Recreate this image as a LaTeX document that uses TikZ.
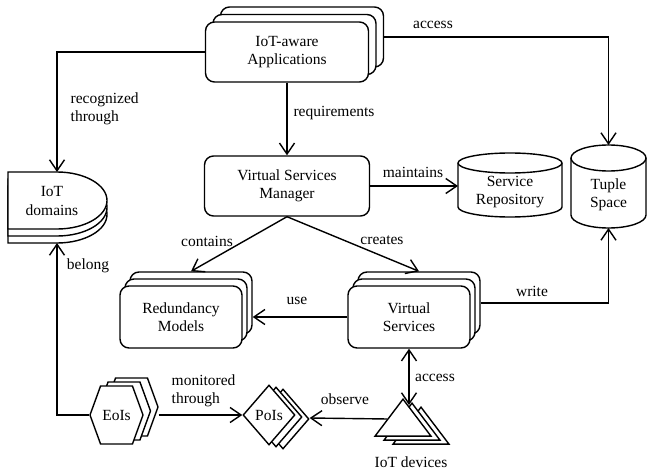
\documentclass[tikz,border=0pt]{standalone}
\usepackage{fontspec}
\setmainfont{Liberation Serif}
\usetikzlibrary{positioning,arrows.meta,calc,shapes.geometric,shapes.symbols,shadows}

\begin{document}
\begin{tikzpicture}[
    x=1pt, y=-1pt,
    every node/.style={font=\fontsize{15.5}{18.5}\selectfont},
    line width=1.4pt,
    box/.style={draw, fill=white, rounded corners=9pt, align=center, inner sep=0pt},
    stack/.style 2 args={copy shadow={shadow xshift=2*#1, shadow yshift=2*#2},
                         copy shadow={shadow xshift=#1, shadow yshift=#2}},
    arr/.style={-{Straight Barb[length=11pt,width=15pt]}},
    dblarr/.style={{Straight Barb[length=11pt,width=15pt]}-{Straight Barb[length=11pt,width=15pt]}},
    lbl/.style={inner sep=0pt},
]
\useasboundingbox (0,0) rectangle (647,473);

% main boxes
\node[box, stack={7.5pt}{7.5pt}, minimum width=163pt, minimum height=60pt]
    (app) at (287,52) {IoT-aware\\Applications};
\node[box, minimum width=165pt, minimum height=60pt]
    (vsm) at (287,186) {Virtual Services\\Manager};
\node[box, stack={5pt}{7pt}, minimum width=122pt, minimum height=62pt]
    (red) at (181,317) {Redundancy\\Models};
\node[box, stack={5pt}{7pt}, minimum width=122pt, minimum height=62pt]
    (vs) at (409,317) {Virtual\\Services};

% storages (drawn by hand)
\draw[fill=white] (458,163) -- (458,207)
    arc[start angle=180, end angle=0, x radius=52, y radius=10] -- (562,163)
    arc[start angle=0, end angle=-180, x radius=52, y radius=10] -- cycle;
\draw (458,163) arc[start angle=180, end angle=0, x radius=52, y radius=10];
\node[align=center] (repo) at (510,192) {Service\\Repository};
\coordinate (repoin) at (458,186);

\draw[fill=white] (571,158) -- (571,215)
    arc[start angle=180, end angle=0, x radius=37.5, y radius=13] -- (646,158)
    arc[start angle=0, end angle=-180, x radius=37.5, y radius=13] -- cycle;
\draw (571,158) arc[start angle=180, end angle=0, x radius=37.5, y radius=13];
\node[align=center] (tuple) at (608.5,195) {Tuple\\Space};
\coordinate (tupletop) at (608.5,145);
\coordinate (tuplebot) at (608.5,228);

% IoT domains
\foreach \dy in {14,7,0}
  \draw[fill=white] (8,172+\dy) -- (57,172+\dy)
    arc[start angle=-90, end angle=90, x radius=50, y radius=28.5]
    -- (8,229+\dy) -- cycle;
\node[align=center] (dom) at (52,201) {IoT\\domains};
\coordinate (domtop) at (57,172);
\coordinate (dombot) at (57,243);

% bottom row
\node[draw, fill=white, signal, signal to=west and east, signal pointer angle=140,
      minimum width=53pt, minimum height=58pt, inner sep=0pt, stack={7.5pt}{4pt}]
    (eois) at (116.5,415) {EoIs};
\node[draw, fill=white, diamond, minimum width=52pt, minimum height=60pt,
      inner sep=0pt, stack={7pt}{-2pt}]
    (pois) at (269,415) {PoIs};
\node[draw, fill=white, isosceles triangle, shape border rotate=90,
      isosceles triangle apex angle=74, isosceles triangle stretches,
      minimum width=56pt, minimum height=37pt, inner sep=0pt,
      stack={9pt}{-4pt}, anchor=apex]
    (dev) at (403,398) {};
\node (devlbl) at (411,462) {IoT devices};

% labels
\node[lbl, anchor=west, align=left] (lrec) at (70,109) {recognized\\through};
\node[lbl] (lacc) at (433,25) {access};
\node[lbl] (lreq) at (334,113) {requirements};
\node[lbl] (lmain) at (413,172) {maintains};
\node[lbl] (lcont) at (207,241) {contains};
\node[lbl] (lcre) at (382,240) {creates};
\node[lbl] (luse) at (297,301) {use};
\node[lbl] (lwri) at (532,291) {write};
\node[lbl] (lbel) at (88,266) {belong};
\node[lbl] (lacc2) at (435,378) {access};
\node[lbl, anchor=west, align=left] (lmon) at (171,391) {monitored\\through};
\node[lbl] (lobs) at (345,399) {observe};

% connectors
\draw[arr] (app.west) -| (domtop);
\draw[arr] ($(app.east)+(15,-15)$) -| (tupletop);
\draw[arr] (app.south) -- (vsm.north);
\draw[arr] (vsm.east) -- (repoin);
\draw[arr] (vsm.south) -- ($(red.north)+(10,-14)$);
\draw[arr] (vsm.south) -- ($(vs.north)+(10,-14)$);
\draw[arr] (vs.west) -- ($(red.east)+(10,0)$);
\draw[arr] ($(vs.east)+(10,-14)$) -| (tuplebot);
\draw[dblarr] (vs.south) -- ($(vs.south |- dev.apex)+(0,7)$);
\draw[arr] ($(dev.apex)!0.54!(dev.left corner)$) -- ($(pois.east)+(14,3)$);
\draw[arr] ($(eois.east)+(15,0)$) -- (pois.west);
\draw[arr] (eois.west) -| (dombot);
\end{tikzpicture}
\end{document}
